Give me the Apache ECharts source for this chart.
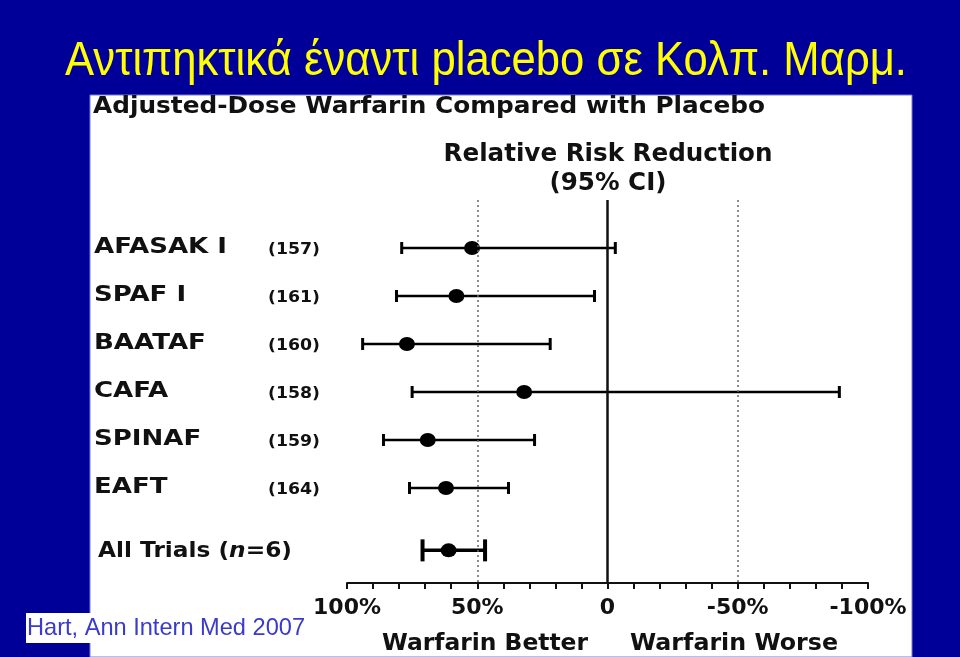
<!DOCTYPE html>
<html>
<head>
<meta charset="utf-8">
<script src="https://cdn.jsdelivr.net/npm/echarts@6/dist/echarts.min.js"></script>
<style>html,body{margin:0;padding:0;background:#000099;}#c{width:960px;height:657px;}</style>
</head>
<body>
<div id="c"></div>
<script>
// ---- data ----
const trials = ['AFASAK I', 'SPAF I', 'BAATAF', 'CAFA', 'SPINAF', 'EAFT'];
const patients = ['(157)', '(161)', '(160)', '(158)', '(159)', '(164)'];
const rrr = [52, 58, 77, 32, 69, 62];          // relative risk reduction, %
const ciUpper = [79, 81, 94, 75, 86, 76];      // upper 95% CI bound (%)
const ciLower = [-3, 5, 22, -89, 28, 38];      // lower 95% CI bound (%)
const pooledName = 'All Trials';
const pooledRRR = 61;
const pooledUpper = 71;
const pooledLower = 47;
const tickLabels = { '100': '100%', '50': '50%', '0': '0', '-50': '-50%', '-100': '-100%' };
const refLines = [50, 0, -50];

// ---- helpers ----
const mctx = document.createElement('canvas').getContext('2d');
function fit(text, font, target) { mctx.font = font; return target / mctx.measureText(text).width; }
const BF = '"DejaVu Sans"';
const nameFont = 'bold 21px ' + BF;
const nameScale = fit('AFASAK I', nameFont, 133);
const cntFont = 'bold 16px ' + BF;
const cntScale = fit('(157)', cntFont, 52);

// rows: trials 0..5, pooled summary after a gap
const rows = trials.map((t, i) => i);
const pooledRow = trials.length + 0.3;

const ciData = trials.map((t, i) => [rows[i], ciLower[i], ciUpper[i], 0]);
ciData.push([pooledRow, pooledLower, pooledUpper, 1]);
const ptData = trials.map((t, i) => [rrr[i], rows[i]]);
const pooledPt = [[pooledRRR, pooledRow]];

const chart = echarts.init(document.getElementById('c'), null, { renderer: 'canvas' });

function T(text, x, y, font, fill, align, targetW) {
  const s = targetW ? fit(text, font, targetW) : 1;
  return { type: 'text', x: x, y: y, scaleX: s, z: 5,
    style: { text: text, font: font, fill: fill, textAlign: align, textVerticalAlign: 'middle', align: align, verticalAlign: 'middle' } };
}

// pooled label with italic n
const plFontB = 'bold 22px ' + BF, plFontI = 'italic bold 22px ' + BF;
mctx.font = plFontB; let plW = mctx.measureText(pooledName + ' (').width + mctx.measureText('=6)').width;
mctx.font = plFontI; plW += mctx.measureText('n').width;
const plScale = 194 / plW;

const option = {
  backgroundColor: '#000099',
  animation: false,
  grid: { left: 347, right: 92, top: 200, bottom: 74 },
  xAxis: {
    type: 'value', inverse: true, min: -100, max: 100, interval: 10,
    axisLine: { onZero: false, lineStyle: { color: '#111', width: 2 } },
    axisTick: { show: true, length: 6, lineStyle: { color: '#111', width: 2 } },
    splitLine: { show: false },
    axisLabel: {
      margin: 14, color: '#111', fontFamily: 'DejaVu Sans', fontWeight: 'bold', fontSize: 22,
      showMinLabel: true, showMaxLabel: true,
      formatter: v => (tickLabels[String(v)] !== undefined ? tickLabels[String(v)] : '')
    }
  },
  yAxis: { type: 'value', inverse: true, min: -1, max: 6.98, show: false },
  graphic: [
    { type: 'rect', z: -10, shape: { x: 90, y: 95, width: 822, height: 562 }, style: { fill: '#ffffff', stroke: '#7b7bd0', lineWidth: 1 } },
    { type: 'rect', z: -9, shape: { x: 26, y: 613, width: 70, height: 30 }, style: { fill: '#ffffff' } },
    T('Αντιπηκτικά έναντι placebo σε Κολπ. Μαρμ.', 65, 61, '49px "Liberation Sans"', '#ffff00', 'left', 842),
    T('Adjusted-Dose Warfarin Compared with Placebo', 93, 107, 'bold 23px ' + BF, '#111', 'left', 672),
    T('Relative Risk Reduction', 608, 155, 'bold 24px ' + BF, '#111', 'center', 329),
    T('(95% CI)', 608, 184, 'bold 24px ' + BF, '#111', 'center', 117),
    T('Warfarin Better', 485, 644, 'bold 23px ' + BF, '#111', 'center', 206),
    T('Warfarin Worse', 734, 644, 'bold 23px ' + BF, '#111', 'center', 208),
    T('Hart, Ann Intern Med 2007', 27, 628, '24px "Liberation Sans"', '#3a3acc', 'left', 278),
    { type: 'text', x: 98, y: 551, scaleX: plScale, z: 5,
      style: { rich: { b: { font: plFontB, fill: '#111' }, i: { font: plFontI, fill: '#111' } },
        text: '{b|' + pooledName + ' (}{i|n}{b|=6)}', textAlign: 'left', textVerticalAlign: 'middle', align: 'left', verticalAlign: 'middle' } }
  ],
  series: [
    {
      type: 'custom', clip: false, z: 3,
      data: ciData,
      renderItem: function (params, api) {
        const row = api.value(0);
        const y = api.coord([0, row])[1];
        const xl = api.coord([api.value(1), row])[0];
        const xh = api.coord([api.value(2), row])[0];
        const sum = api.value(3) === 1;
        const cap = sum ? 11 : 6, lw = sum ? 3.5 : 2.5, cw = sum ? 4 : 3;
        const st = { stroke: '#000', lineWidth: lw };
        const cst = { stroke: '#000', lineWidth: cw };
        const ch = [
          { type: 'line', shape: { x1: xl, y1: y, x2: xh, y2: y }, style: st },
          { type: 'line', shape: { x1: xl, y1: y - cap, x2: xl, y2: y + cap }, style: cst },
          { type: 'line', shape: { x1: xh, y1: y - cap, x2: xh, y2: y + cap }, style: cst }
        ];
        if (!sum) {
          const i = params.dataIndex;
          ch.push({ type: 'text', x: 94, y: y, scaleX: nameScale,
            style: { text: trials[i], font: nameFont, fill: '#111', textAlign: 'left', textVerticalAlign: 'middle', align: 'left', verticalAlign: 'middle' } });
          ch.push({ type: 'text', x: 268, y: y + 2, scaleX: cntScale,
            style: { text: patients[i], font: cntFont, fill: '#111', textAlign: 'left', textVerticalAlign: 'middle', align: 'left', verticalAlign: 'middle' } });
        }
        return { type: 'group', children: ch };
      }
    },
    {
      type: 'scatter', z: 4, symbol: 'circle', symbolSize: [16, 14],
      itemStyle: { color: '#000', opacity: 1 }, data: ptData,
      markLine: {
        silent: true, symbol: 'none', label: { show: false },
        data: refLines.map(v => ({ xAxis: v, lineStyle: v === 0
          ? { type: 'solid', color: '#111', width: 2.5 }
          : { type: [2, 3], color: '#666', width: 1.5 } }))
      }
    },
    {
      type: 'scatter', z: 4, symbol: 'circle', symbolSize: [16, 14],
      itemStyle: { color: '#000', opacity: 1 }, data: pooledPt
    }
  ]
};
chart.setOption(option);
</script>
</body>
</html>
